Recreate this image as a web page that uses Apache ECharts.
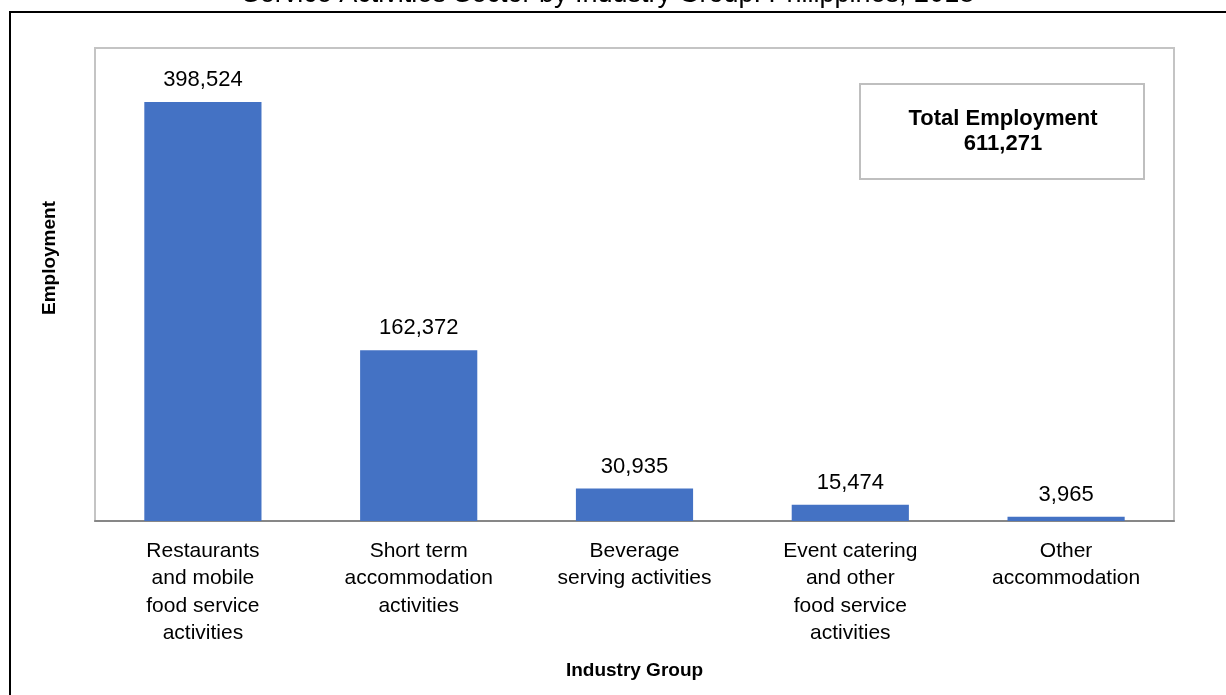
<!DOCTYPE html>
<html>
<head>
<meta charset="utf-8">
<script src="https://cdn.jsdelivr.net/npm/echarts@6/dist/echarts.min.js"></script>
<style>
  html, body { margin: 0; padding: 0; background: #fff; }
  #chart { width: 1226px; height: 695px; }
</style>
</head>
<body>
<div id="chart"></div>
<script>
// data
var groups = [
  'Restaurants\nand mobile\nfood service\nactivities',
  'Short term\naccommodation\nactivities',
  'Beverage\nserving activities',
  'Event catering\nand other\nfood service\nactivities',
  'Other\naccommodation'
];
var employment = [398524, 162372, 30935, 15474, 3965];
var totalEmployment = 611271;
var chartTitle = 'Service Activities Sector by Industry Group: Philippines, 2018';

var font = '"Liberation Sans", Arial, sans-serif';

function fmt(n) {
  return String(n).replace(/\B(?=(\d{3})+(?!\d))/g, ',');
}

var chart = echarts.init(document.getElementById('chart'));

var option = {
  animation: false,
  textStyle: { fontFamily: font, color: '#000' },
  grid: {
    left: 95,
    right: 52,
    top: 48,
    bottom: 174,
    show: true,
    borderColor: '#c4c4c4',
    borderWidth: 2
  },
  xAxis: {
    type: 'category',
    data: groups,
    name: 'Industry Group',
    nameLocation: 'middle',
    nameGap: 140,
    nameTextStyle: { fontFamily: font, fontSize: 19, fontWeight: 'bold', color: '#000' },
    axisLine: { lineStyle: { color: '#878787', width: 2 } },
    axisTick: { show: false },
    axisLabel: {
      interval: 0,
      margin: 16,
      fontFamily: font,
      fontSize: 21,
      lineHeight: 27.5,
      color: '#000'
    }
  },
  yAxis: {
    type: 'value',
    min: 0,
    max: 450000,
    axisLine: { show: false },
    axisTick: { show: false },
    axisLabel: { show: false },
    splitLine: { show: false }
  },
  series: [{
    type: 'bar',
    data: employment,
    barWidth: '54.3%',
    itemStyle: { color: '#4472c4' },
    label: {
      show: true,
      position: 'top',
      distance: 11,
      fontFamily: font,
      fontSize: 22,
      color: '#000',
      formatter: function (p) { return fmt(p.value); }
    }
  }],
  graphic: [
    {
      type: 'rect',
      shape: { x: 10, y: 12, width: 1400, height: 900 },
      style: { fill: 'none', stroke: '#000', lineWidth: 2 },
      silent: true
    },
    {
      type: 'text',
      x: 608,
      y: -5,
      style: {
        text: chartTitle,
        font: '27px ' + font,
        fill: '#000',
        textAlign: 'center',
        textVerticalAlign: 'middle'
      }
    },
    {
      type: 'text',
      x: 50,
      y: 258,
      rotation: Math.PI / 2,
      style: {
        text: 'Employment',
        font: 'bold 19px ' + font,
        fill: '#000',
        textAlign: 'center',
        textVerticalAlign: 'middle'
      }
    },
    {
      type: 'rect',
      shape: { x: 860, y: 84, width: 284, height: 95 },
      style: { fill: '#fff', stroke: '#bfbfbf', lineWidth: 2 }
    },
    {
      type: 'text',
      x: 1003,
      y: 131,
      style: {
        text: 'Total Employment\n' + fmt(totalEmployment),
        font: 'bold 22px ' + font,
        lineHeight: 25,
        fill: '#000',
        textAlign: 'center',
        textVerticalAlign: 'middle'
      }
    }
  ]
};

chart.setOption(option);
</script>
</body>
</html>
